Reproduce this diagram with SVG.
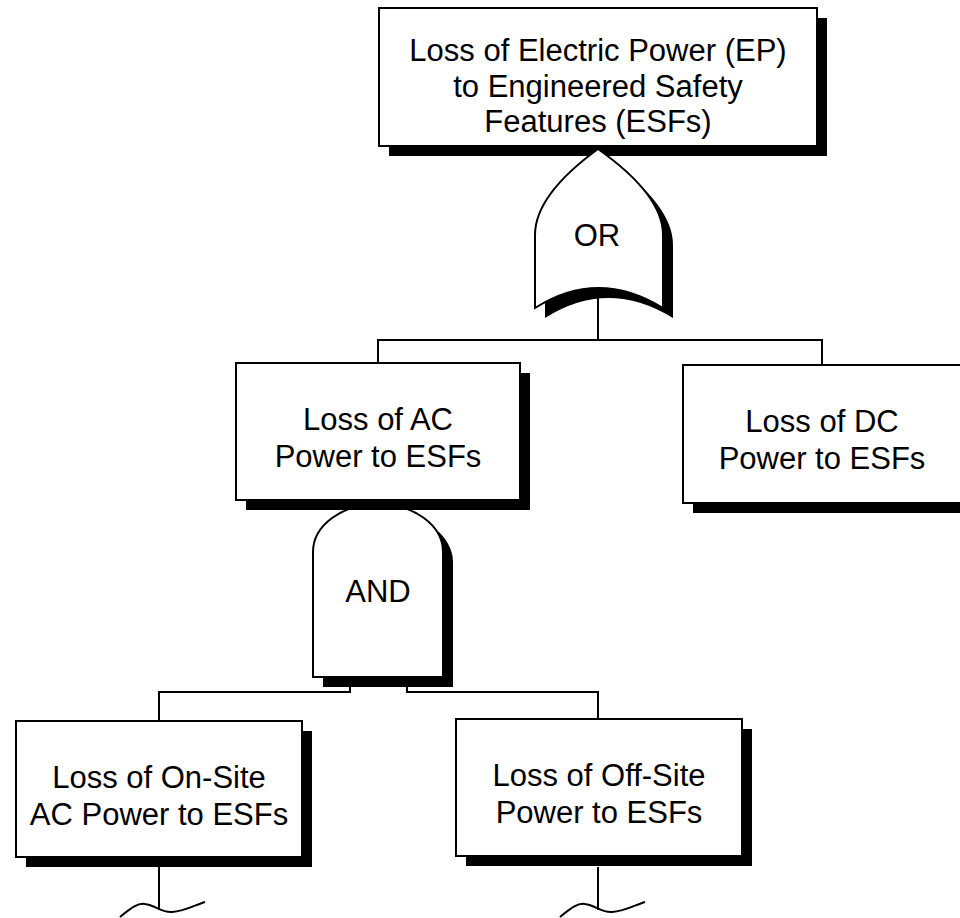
<svg xmlns="http://www.w3.org/2000/svg" width="960" height="918" viewBox="0 0 960 918">
<style>
.box{fill:#fff;stroke:#000;stroke-width:2}
.sh{fill:#000}
.ln{fill:none;stroke:#000;stroke-width:2}
text{font-family:"Liberation Sans",Arial,sans-serif;font-size:31px;fill:#000;text-anchor:middle}
</style>
<rect width="960" height="918" fill="#fff"/>
<g id="connectors">
<path class="ln" d="M598,290 V340 M378,363 V340 H822 V365"/>
<path class="ln" d="M159,721 V692 H350 V686 M407,686 V692 H598 V719"/>
<path class="ln" d="M159,867 V910 M120,917 C132,907 138,903 145,904 C155,905 162,913 172,912 C185,911 195,905 205,902"/>
<path class="ln" d="M598,867 V910 M560,917 C572,907 578,903 585,904 C595,905 602,913 612,912 C625,911 635,905 645,902"/>
</g>
<g id="top-event">
<rect class="sh" x="389" y="18" width="438" height="138"/>
<rect class="box" x="379" y="8" width="438" height="138"/>
<text x="598" y="61">Loss of Electric Power (EP)</text>
<text x="598" y="97">to Engineered Safety</text>
<text x="598" y="132">Features (ESFs)</text>
</g>
<g id="or-gate">
<path class="sh" d="M608,159 Q545,205 545,245 V318 Q608,278 673,318 V245 Q673,205 608,159 Z"/>
<path class="box" d="M598,149 Q535,195 535,235 V308 Q598,268 663,308 V235 Q663,195 598,149 Z"/>
<text x="597" y="246">OR</text>
</g>
<g id="and-gate">
<path class="sh" d="M323,562 A65,48 0 0 1 453,562 V687 H323 Z"/>
<path class="box" d="M313,552 A65,48 0 0 1 443,552 V677 H313 Z"/>
<text x="378" y="602">AND</text>
</g>
<g id="ac-power">
<rect class="sh" x="246" y="373" width="284" height="137"/>
<rect class="box" x="236" y="363" width="284" height="137"/>
<text x="378" y="430">Loss of AC</text>
<text x="378" y="467">Power to ESFs</text>
</g>
<g id="dc-power">
<rect class="sh" x="693" y="375" width="284" height="138"/>
<rect class="box" x="683" y="365" width="284" height="138"/>
<text x="822" y="432">Loss of DC</text>
<text x="822" y="469">Power to ESFs</text>
</g>
<g id="onsite-ac">
<rect class="sh" x="26" y="731" width="286" height="136"/>
<rect class="box" x="16" y="721" width="286" height="136"/>
<text x="159" y="788">Loss of On-Site</text>
<text x="159" y="825">AC Power to ESFs</text>
</g>
<g id="offsite">
<rect class="sh" x="466" y="729" width="286" height="137"/>
<rect class="box" x="456" y="719" width="286" height="137"/>
<text x="599" y="786">Loss of Off-Site</text>
<text x="599" y="823">Power to ESFs</text>
</g>
</svg>
